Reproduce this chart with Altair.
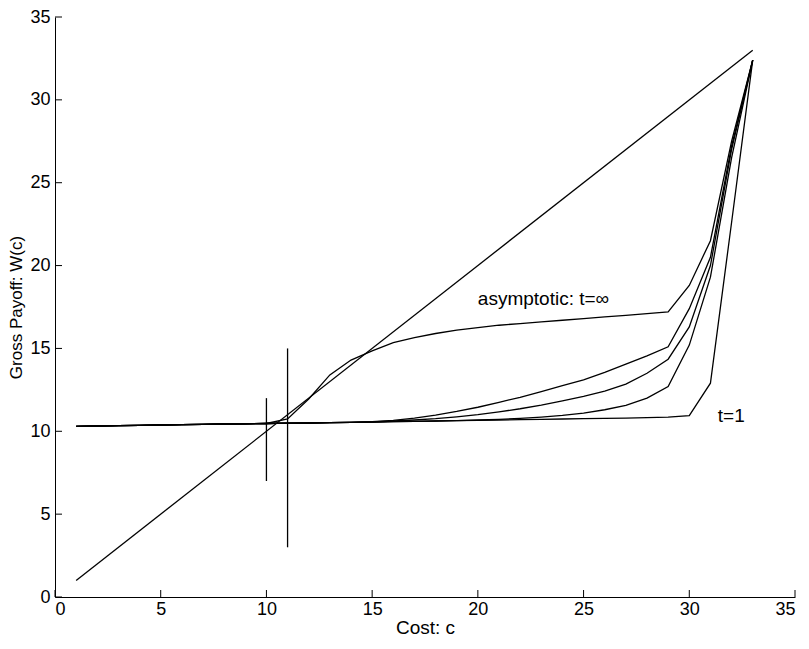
import altair as alt
import pandas as pd

# ---- data ----
x_vals = list(range(1, 34))

t1_vals = [10.30, 10.32, 10.34, 10.36, 10.38, 10.40, 10.42, 10.44, 10.45, 10.47,
           10.49, 10.50, 10.52, 10.54, 10.56, 10.58, 10.60, 10.62, 10.64, 10.66,
           10.68, 10.70, 10.72, 10.74, 10.76, 10.78, 10.80, 10.83, 10.86, 10.95,
           12.90, 22.60, 32.40]

c_vals = [10.30, 10.32, 10.34, 10.36, 10.38, 10.40, 10.42, 10.44, 10.45, 10.47,
          10.49, 10.50, 10.52, 10.54, 10.56, 10.58, 10.60, 10.62, 10.64, 10.68,
          10.72, 10.78, 10.86, 10.96, 11.10, 11.30, 11.57, 12.00, 12.70, 15.20,
          19.30, 26.50, 32.40]

b_vals = [10.30, 10.32, 10.34, 10.36, 10.38, 10.40, 10.42, 10.44, 10.45, 10.47,
          10.49, 10.50, 10.52, 10.54, 10.56, 10.62, 10.68, 10.76, 10.87, 11.00,
          11.17, 11.36, 11.58, 11.83, 12.10, 12.43, 12.85, 13.50, 14.35, 16.30,
          20.00, 27.00, 32.40]

a_vals = [10.30, 10.32, 10.34, 10.36, 10.38, 10.40, 10.42, 10.44, 10.45, 10.47,
          10.49, 10.50, 10.52, 10.54, 10.58, 10.66, 10.80, 10.98, 11.20, 11.45,
          11.75, 12.05, 12.40, 12.75, 13.10, 13.55, 14.05, 14.55, 15.10, 17.40,
          20.50, 27.20, 32.40]

asym_vals = [10.30, 10.32, 10.34, 10.36, 10.38, 10.40, 10.42, 10.44, 10.45, 10.47,
             10.75, 11.95, 13.40, 14.30, 14.85, 15.35, 15.65, 15.90, 16.10, 16.25,
             16.40, 16.50, 16.60, 16.70, 16.80, 16.90, 17.00, 17.10, 17.20, 18.80,
             21.50, 27.50, 32.40]

diag_x = [1, 33]
diag_y = [1, 33]

bar_x = [10, 11]
bar_lo = [7, 3]
bar_hi = [12, 15]

label_text = ["asymptotic: t=\u221e", "t=1"]
label_x = [20.0, 31.35]
label_y = [18.0, 10.9]

x_ticks = [0, 5, 10, 15, 20, 25, 30, 35]
y_ticks = [0, 5, 10, 15, 20, 25, 30, 35]

# ---- tables ----
rows = []
for name, vals in [("t1", t1_vals), ("c", c_vals), ("b", b_vals), ("a", a_vals), ("asym", asym_vals)]:
    for xv, yv in zip(x_vals, vals):
        rows.append({"series": name, "x": xv, "y": yv})
curves = pd.DataFrame(rows)
diag = pd.DataFrame({"x": diag_x, "y": diag_y})
bars = pd.DataFrame({"x": bar_x, "lo": bar_lo, "hi": bar_hi})
labels = pd.DataFrame({"text": label_text, "x": label_x, "y": label_y})
xt = pd.DataFrame({"v": x_ticks})
yt = pd.DataFrame({"v": y_ticks})

W, H = 740, 580
FONT = "Liberation Sans"
LW = 1.3

xs = alt.Scale(domain=[0, 35], nice=False)
ys = alt.Scale(domain=[0, 35], nice=False)

x_axis = alt.Axis(values=x_ticks, title="Cost: c", tickSize=0, labelPadding=3,
                  titlePadding=0, grid=False, labelFontSize=18, titleFontSize=19)
y_axis = alt.Axis(values=y_ticks, title="Gross Payoff: W(c)", tickSize=0, labelPadding=5,
                  titlePadding=4, grid=False, labelFontSize=18, titleFontSize=17)

lines = alt.Chart(curves).mark_line(color="black", strokeWidth=LW).encode(
    x=alt.X("x:Q", scale=xs, axis=x_axis),
    y=alt.Y("y:Q", scale=ys, axis=y_axis),
    detail="series:N",
)

diag_line = alt.Chart(diag).mark_line(color="black", strokeWidth=LW).encode(
    x=alt.X("x:Q", scale=xs),
    y=alt.Y("y:Q", scale=ys),
)

vbars = alt.Chart(bars).mark_rule(color="black", strokeWidth=LW).encode(
    x=alt.X("x:Q", scale=xs),
    y=alt.Y("lo:Q", scale=ys),
    y2="hi:Q",
)

texts = alt.Chart(labels).mark_text(align="left", baseline="middle", fontSize=19,
                                    font=FONT, color="black").encode(
    x=alt.X("x:Q", scale=xs),
    y=alt.Y("y:Q", scale=ys),
    text="text:N",
)

xticks = alt.Chart(xt).mark_rule(color="black", strokeWidth=1).encode(
    x=alt.X("v:Q", scale=xs),
    y=alt.value(H),
    y2=alt.value(H - 7),
)

yticks = alt.Chart(yt).mark_rule(color="black", strokeWidth=1).encode(
    y=alt.Y("v:Q", scale=ys),
    x=alt.value(0),
    x2=alt.value(7),
)

chart = alt.layer(lines, diag_line, vbars, texts, xticks, yticks).properties(
    width=W, height=H,
    padding={"left": 47, "top": 9, "right": 5, "bottom": 43},
    autosize=alt.AutoSizeParams(type="none"),
).configure_view(stroke=None).configure_axis(
    domainColor="black", domainWidth=1, labelColor="black", titleColor="black",
    labelFont=FONT, titleFont=FONT, titleFontWeight="normal",
)

chart.save("out.html", embed_options={"renderer": "svg", "actions": False})
